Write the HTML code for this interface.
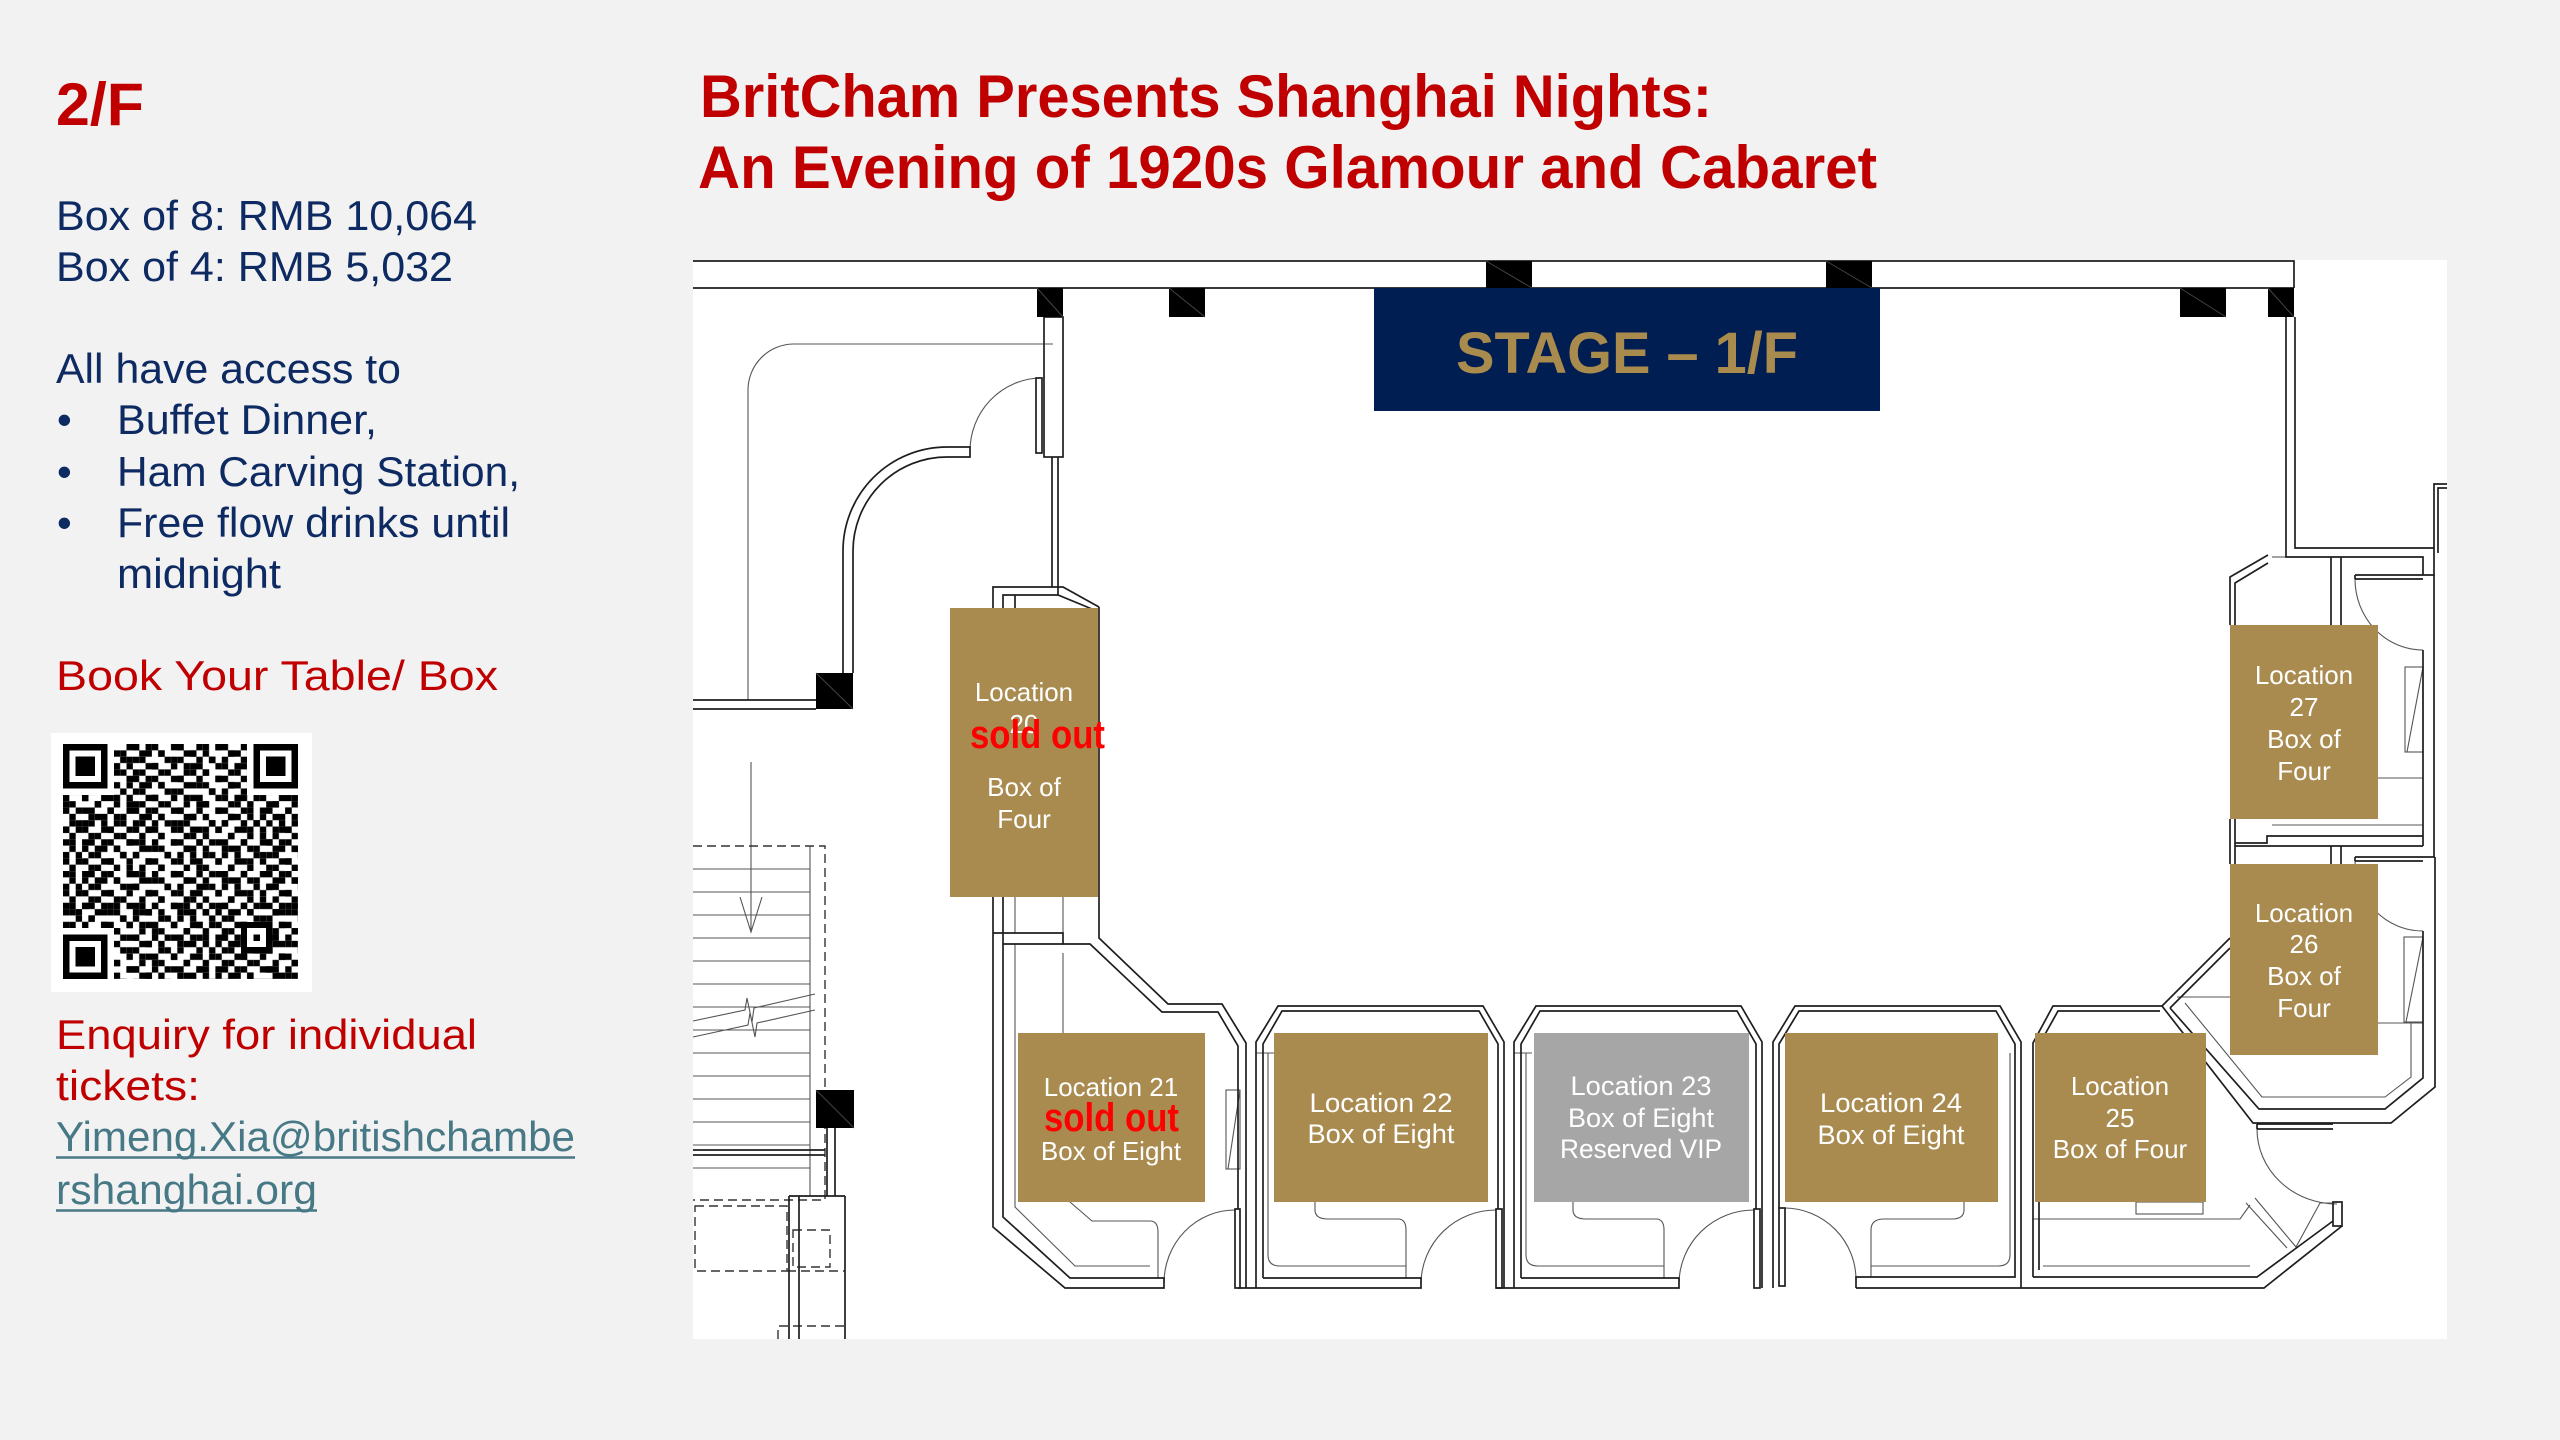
<!DOCTYPE html>
<html><head><meta charset="utf-8">
<style>
html,body{margin:0;padding:0;background:#f2f2f2;}
svg{display:block;}
</style></head>
<body>
<svg width="2560" height="1440" viewBox="0 0 2560 1440" xmlns="http://www.w3.org/2000/svg" font-family="'Liberation Sans', Arial, sans-serif">
<defs>
<pattern id="qa" x="0" y="0" width="7" height="5" patternUnits="userSpaceOnUse">
<rect x="0" y="0" width="1" height="1"/><rect x="3" y="0" width="2" height="1"/>
<rect x="1" y="1" width="1" height="1"/><rect x="5" y="1" width="2" height="1"/>
<rect x="2" y="2" width="1" height="1"/><rect x="4" y="2" width="1" height="1"/>
<rect x="0" y="3" width="1" height="1"/><rect x="3" y="3" width="1" height="1"/><rect x="6" y="3" width="1" height="1"/>
<rect x="1" y="4" width="1" height="1"/><rect x="5" y="4" width="1" height="1"/>
</pattern>
<pattern id="qb" x="0" y="0" width="11" height="13" patternUnits="userSpaceOnUse">
<rect x="0" y="0" width="1" height="1"/><rect x="2" y="0" width="1" height="1"/><rect x="7" y="0" width="1" height="1"/>
<rect x="4" y="1" width="1" height="1"/><rect x="9" y="1" width="1" height="1"/>
<rect x="1" y="2" width="1" height="1"/><rect x="6" y="2" width="1" height="1"/><rect x="10" y="2" width="1" height="1"/>
<rect x="3" y="3" width="1" height="1"/><rect x="8" y="3" width="1" height="1"/>
<rect x="0" y="4" width="1" height="1"/><rect x="5" y="4" width="1" height="1"/><rect x="9" y="4" width="1" height="1"/>
<rect x="2" y="5" width="1" height="1"/><rect x="7" y="5" width="1" height="1"/>
<rect x="4" y="6" width="1" height="1"/><rect x="10" y="6" width="1" height="1"/>
<rect x="1" y="7" width="1" height="1"/><rect x="6" y="7" width="1" height="1"/>
<rect x="3" y="8" width="1" height="1"/><rect x="8" y="8" width="1" height="1"/>
<rect x="0" y="9" width="1" height="1"/><rect x="5" y="9" width="1" height="1"/><rect x="10" y="9" width="1" height="1"/>
<rect x="2" y="10" width="1" height="1"/><rect x="7" y="10" width="1" height="1"/>
<rect x="4" y="11" width="1" height="1"/><rect x="9" y="11" width="1" height="1"/>
<rect x="1" y="12" width="1" height="1"/><rect x="3" y="12" width="1" height="1"/><rect x="6" y="12" width="1" height="1"/><rect x="8" y="12" width="1" height="1"/>
</pattern>
</defs>

<rect width="2560" height="1440" fill="#f2f2f2"/>

<!-- LEFT COLUMN -->
<text x="56" y="125" font-size="60" font-weight="bold" fill="#c00000" textLength="88" lengthAdjust="spacingAndGlyphs">2/F</text>
<g font-size="42" fill="#0e2a62">
<text x="56" y="230" textLength="421" lengthAdjust="spacingAndGlyphs">Box of 8: RMB 10,064</text>
<text x="56" y="281" textLength="397" lengthAdjust="spacingAndGlyphs">Box of 4: RMB 5,032</text>
<text x="56" y="383" textLength="345" lengthAdjust="spacingAndGlyphs">All have access to</text>
<text x="57" y="434">•</text>
<text x="57" y="486">•</text>
<text x="57" y="537">•</text>
<text x="117" y="434" textLength="260" lengthAdjust="spacingAndGlyphs">Buffet Dinner,</text>
<text x="117" y="486" textLength="403" lengthAdjust="spacingAndGlyphs">Ham Carving Station,</text>
<text x="117" y="537" textLength="393" lengthAdjust="spacingAndGlyphs">Free flow drinks until</text>
<text x="117" y="588" textLength="164" lengthAdjust="spacingAndGlyphs">midnight</text>
</g>
<g font-size="42" fill="#c00000">
<text x="56" y="690" textLength="442" lengthAdjust="spacingAndGlyphs">Book Your Table/ Box</text>
<text x="56" y="1049" textLength="421" lengthAdjust="spacingAndGlyphs">Enquiry for individual</text>
<text x="56" y="1100" textLength="144" lengthAdjust="spacingAndGlyphs">tickets:</text>
</g>
<g font-size="42" fill="#467886">
<text x="56" y="1151" textLength="519" lengthAdjust="spacingAndGlyphs">Yimeng.Xia@britishchambe</text>
<text x="56" y="1204" textLength="261" lengthAdjust="spacingAndGlyphs">rshanghai.org</text>
</g>
<path d="M56,1157.5 H575 M56,1210.5 H317" stroke="#467886" stroke-width="2.5"/>

<!-- QR -->
<rect x="51" y="733" width="261" height="259" fill="#ffffff"/>
<g transform="translate(63,744) scale(6.35)" shape-rendering="crispEdges">
<rect x="0" y="0" width="37" height="37" fill="url(#qa)"/>
<rect x="0" y="0" width="37" height="37" fill="url(#qb)"/>
<rect x="0" y="0" width="8" height="8" fill="#fff"/>
<rect x="29" y="0" width="8" height="8" fill="#fff"/>
<rect x="0" y="29" width="8" height="8" fill="#fff"/>
<rect x="0" y="0" width="7" height="7" fill="#000"/><rect x="1" y="1" width="5" height="5" fill="#fff"/><rect x="2" y="2" width="3" height="3" fill="#000"/>
<rect x="30" y="0" width="7" height="7" fill="#000"/><rect x="31" y="1" width="5" height="5" fill="#fff"/><rect x="32" y="2" width="3" height="3" fill="#000"/>
<rect x="0" y="30" width="7" height="7" fill="#000"/><rect x="1" y="31" width="5" height="5" fill="#fff"/><rect x="2" y="32" width="3" height="3" fill="#000"/>
<rect x="28" y="28" width="5" height="5" fill="#000"/><rect x="29" y="29" width="3" height="3" fill="#fff"/><rect x="30" y="30" width="1" height="1" fill="#000"/>
</g>

<!-- TITLE -->
<g font-size="60" font-weight="bold" fill="#c00000">
<text x="700" y="117" textLength="1012" lengthAdjust="spacingAndGlyphs">BritCham Presents Shanghai Nights:</text>
<text x="698" y="188" textLength="1179" lengthAdjust="spacingAndGlyphs">An Evening of 1920s Glamour and Cabaret</text>
</g>

<!-- FLOOR PLAN BACKGROUND -->
<rect x="693" y="260" width="1754" height="1079" fill="#ffffff"/>

<!-- THIN LINES -->
<g fill="none" stroke="#555" stroke-width="1.1">
<path d="M1053,344 H793 A46,46 0 0 0 748,390 V700"/>
<path d="M970,451 A72,73 0 0 1 1040,378"/>
<path d="M810,846 V1196"/>
<path d="M693,869 H810 M693,892 H810 M693,915 H810 M693,938 H810 M693,961 H810 M693,984 H810 M693,1007 H810 M693,1030 H810 M693,1053 H810 M693,1076 H810 M693,1099 H810 M693,1122 H810 M693,1145 H810 M693,1168 H810"/>
<path d="M751,762 V932 M740,897 L751,932 L762,897"/>
<path d="M693,1021 L745,1010 L747,998 L752,1022 L754,1008 L815,994 M693,1037 L748,1025 L750,1013 L755,1037 L757,1023 L815,1010"/>
<path d="M1015,897 V933 M1063,897 V933 M1063,953 V1033"/>
<path d="M1015,944 V1207 L1075,1266 H1150"/>
<path d="M1070,1202 L1092,1221 H1150 Q1158,1221 1158,1232 V1278"/>
<path d="M1164,1283 A71,73 0 0 1 1235,1210"/>
<path d="M1240,1090 L1228,1169"/>
<!-- cell 22 thin -->
<path d="M1268,1053 V1255 Q1268,1266 1280,1266 H1406 M1256,1053 H1274 M1315,1202 V1210 Q1315,1219 1328,1219 H1398 Q1406,1219 1406,1230 V1278"/>
<path d="M1421,1283 A75,74 0 0 1 1496,1210"/>
<!-- cell 23 thin -->
<path d="M1526,1053 V1255 Q1526,1266 1538,1266 H1664 M1514,1053 H1532 M1573,1202 V1210 Q1573,1219 1586,1219 H1656 Q1664,1219 1664,1230 V1278"/>
<path d="M1679,1283 A75,74 0 0 1 1754,1210"/>
<!-- cell 24 thin -->
<path d="M2010,1053 V1255 Q2010,1266 1998,1266 H1871 M1964,1202 V1210 Q1964,1219 1952,1219 H1884 Q1871,1219 1871,1230 V1277"/>
<path d="M1785,1208 A72,72 0 0 1 1856,1280"/>
<!-- cell 25 thin -->
<path d="M2033,1219 H2240 L2250,1205 M2043,1266 H2250"/>
<path d="M2257,1129 A80,75 0 0 0 2337,1204"/>
<path d="M2246,1203 L2287,1248 M2255,1198 L2296,1247 L2320,1203 H2333"/>
<path d="M2185,1003 L2262,1097 H2385 L2411,1077 V1023 M2177,997 H2230"/>
<!-- right cells thin -->
<path d="M2272,557 H2286"/>
<path d="M2355,579 A68,71 0 0 0 2423,650"/>
<path d="M2423,667 L2407,752 M2378,778 H2423 M2272,825 H2423"/>
<path d="M2355,861 A68,70 0 0 0 2423,931"/>
<path d="M2423,937 L2406,1022 M2378,1023 H2423"/>
<rect x="2136" y="1202" width="67" height="12"/>
<rect x="2405" y="667" width="18" height="85"/>
<rect x="2404" y="937" width="19" height="85"/>
<rect x="1226" y="1090" width="14" height="79"/>
</g>

<!-- DASHED -->
<g fill="none" stroke="#333" stroke-width="1.4" stroke-dasharray="9,5">
<path d="M693,846 H825 V1200 H693"/>
<rect x="695" y="1206" width="92" height="65"/>
<rect x="793" y="1230" width="37" height="37"/>
<path d="M787,1271 H845 M778,1339 V1326 H845"/>
</g>

<!-- WALLS -->
<g fill="none" stroke="#1e1e1e" stroke-width="1.7">
<path d="M693,261 H2294 V288 M693,288 H2294"/>
<path d="M693,700 H816 M693,709 H816"/>
<path d="M843,673 V551 A104,104 0 0 1 947,447 H970 V457 H947 A94,94 0 0 0 853,551 V673"/>
<rect x="1036" y="378" width="6" height="75"/>
<rect x="1044" y="317" width="19" height="140"/>
<path d="M1052,457 V587 M1058,457 V595"/>
<path d="M993,609 V587 H1063 L1099,607 M1003,609 V595 H1058 L1092,609 M1015,595 V609"/>
<path d="M693,1150 H825 M693,1155 H825"/>
<path d="M827,1128 V1196 M835,1128 V1196"/>
<path d="M789,1196 V1339 M799,1196 V1339 M845,1196 V1339 M789,1196 H845"/>
<!-- cell 21 -->
<path d="M993,897 V1227 L1065,1288 H1164 V1278 H1070 L1003,1217 V897"/>
<path d="M993,933 H1063 V944 H1003"/>
<path d="M1099,607 V938 L1168,1004 H1222 L1246,1043 V1288"/>
<path d="M1063,944 H1090 L1162,1012 H1218 L1238,1046 V1209"/>
<rect x="1235" y="1209" width="5" height="79"/>
<!-- cell 22 -->
<path d="M1256,1288 V1042 L1278,1006 H1483 L1504,1042 V1288"/>
<path d="M1263,1278 V1044 L1282,1011 H1479 L1498,1044 V1209"/>
<path d="M1238,1288 H1421 V1278 H1263"/>
<rect x="1496" y="1209" width="6" height="79"/>
<!-- cell 23 -->
<path d="M1514,1288 V1042 L1536,1006 H1741 L1762,1042 V1288"/>
<path d="M1521,1278 V1044 L1540,1011 H1737 L1756,1044 V1209"/>
<path d="M1496,1288 H1679 V1278 H1521"/>
<rect x="1754" y="1209" width="6" height="79"/>
<!-- cell 24 -->
<path d="M1773,1288 V1042 L1795,1006 H2000 L2021,1042 V1288"/>
<path d="M1779,1209 V1044 L1799,1011 H1996 L2015,1044 V1277 H1856 V1288"/>
<rect x="1779" y="1208" width="6" height="78"/>
<!-- cell 25 -->
<path d="M2033,1277 V1043 L2053,1006 H2162 L2253,1123 H2391 L2435,1087 V857"/>
<path d="M2039,1270 V1045 L2058,1011 H2160"/>
<path d="M2170,1008 L2259,1109 H2385 L2423,1078 V931"/>
<path d="M2162,1006 L2230,938 M2170,1008 L2230,948"/>
<path d="M2257,1124 H2333 M2257,1129 H2333 M2257,1124 V1129"/>
<rect x="2333" y="1202" width="9" height="24"/>
<path d="M1856,1288 H2264 L2342,1226 M2033,1277 H2257 L2333,1221"/>
<!-- right cells -->
<path d="M2286,317 V557 H2423 V575 M2295,317 V548 H2434 V575 H2423"/>
<path d="M2434,548 V484 H2447 M2438,553 V488 H2447"/>
<path d="M2230,625 V577 L2268,555 M2235,625 V583 L2268,563"/>
<path d="M2331,557 V625 M2341,557 V625"/>
<path d="M2355,575 H2423 M2355,579 H2423 M2355,575 V579"/>
<path d="M2423,650 V846 M2434,575 V857"/>
<path d="M2230,819 V864 M2235,819 V864"/>
<path d="M2235,843 H2267 V836 H2423 M2235,846 H2423"/>
<path d="M2331,846 V864 M2341,846 V864"/>
<path d="M2355,857 H2435 M2355,861 H2423 M2355,857 V861"/>
</g>

<!-- BLACK COLUMNS -->
<g fill="#000">
<rect x="1486" y="261" width="46" height="27"/>
<rect x="1826" y="261" width="46" height="27"/>
<rect x="1037" y="288" width="26" height="29"/>
<rect x="1169" y="288" width="36" height="29"/>
<rect x="2180" y="288" width="46" height="29"/>
<rect x="2268" y="288" width="26" height="29"/>
<rect x="816" y="673" width="37" height="36"/>
<rect x="816" y="1090" width="38" height="38"/>
</g>
<g stroke="#444" stroke-width="1">
<path d="M1486,261 L1532,288 M1826,261 L1872,288 M1037,288 L1063,317 M1169,288 L1205,317 M2180,288 L2226,317 M2268,288 L2294,317 M816,673 L853,709 M816,1090 L854,1128"/>
</g>

<!-- STAGE -->
<rect x="1374" y="288" width="506" height="123" fill="#011e52"/>
<text x="1456" y="373" font-size="58" font-weight="bold" fill="#a98b4e" textLength="342" lengthAdjust="spacingAndGlyphs">STAGE – 1/F</text>

<!-- BOXES -->
<g fill="#a98b4f">
<rect x="950" y="608" width="148" height="289"/>
<rect x="1018" y="1033" width="187" height="169"/>
<rect x="1274" y="1033" width="214" height="169"/>
<rect x="1785" y="1033" width="213" height="169"/>
<rect x="2035" y="1033" width="171" height="169"/>
<rect x="2230" y="864" width="148" height="191"/>
<rect x="2230" y="625" width="148" height="194"/>
</g>
<rect x="1534" y="1033" width="215" height="169" fill="#a6a6a6"/>

<!-- BOX TEXT -->
<g fill="#ffffff" font-size="26" text-anchor="middle">
<text x="1024" y="701">Location</text>
<text x="1024" y="733">20</text>
<text x="1024" y="796">Box of</text>
<text x="1024" y="828">Four</text>

<text x="1111" y="1096">Location 21</text>
<text x="1111" y="1160">Box of Eight</text>

<text x="2120" y="1095">Location</text>
<text x="2120" y="1127">25</text>
<text x="2120" y="1158">Box of Four</text>

<text x="2304" y="922">Location</text>
<text x="2304" y="953">26</text>
<text x="2304" y="985">Box of</text>
<text x="2304" y="1017">Four</text>

<text x="2304" y="684">Location</text>
<text x="2304" y="716">27</text>
<text x="2304" y="748">Box of</text>
<text x="2304" y="780">Four</text>
</g>
<g fill="#ffffff" font-size="27" text-anchor="middle">
<text x="1381" y="1112" textLength="143" lengthAdjust="spacingAndGlyphs">Location 22</text>
<text x="1381" y="1143" textLength="147" lengthAdjust="spacingAndGlyphs">Box of Eight</text>
<text x="1641" y="1095" textLength="141" lengthAdjust="spacingAndGlyphs">Location 23</text>
<text x="1641" y="1127" textLength="146" lengthAdjust="spacingAndGlyphs">Box of Eight</text>
<text x="1641" y="1158" textLength="162" lengthAdjust="spacingAndGlyphs">Reserved VIP</text>
<text x="1891" y="1112" textLength="142" lengthAdjust="spacingAndGlyphs">Location 24</text>
<text x="1891" y="1144" textLength="147" lengthAdjust="spacingAndGlyphs">Box of Eight</text>
</g>
<g fill="#ff0000" font-size="40" font-weight="bold">
<text x="970" y="748" textLength="135" lengthAdjust="spacingAndGlyphs">sold out</text>
<text x="1044" y="1131" textLength="135" lengthAdjust="spacingAndGlyphs">sold out</text>
</g>
</svg>
</body></html>
